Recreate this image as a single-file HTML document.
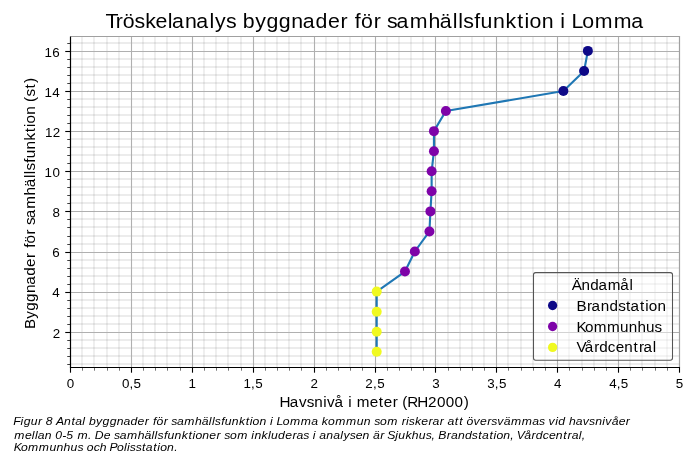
<!DOCTYPE html>
<html><head><meta charset="utf-8">
<style>
html,body{margin:0;padding:0;background:#fff;}
svg{display:block;will-change:transform;}
text{font-family:"Liberation Sans", sans-serif;fill:#000;}
.mg{stroke:rgba(0,0,0,0.1);stroke-width:1.7;}
.mgv{stroke:rgba(0,0,0,0.08);stroke-width:1.7;}
.Mg{stroke:#b0b0b0;stroke-width:1.1;}
.gs{stroke:#a0a0a0;stroke-width:1.2;}
.sp{stroke:#000;stroke-width:1.2;}
.tk{stroke:#000;stroke-width:1.1;}
.tkm{stroke:#000;stroke-width:0.75;}
.tkmx{stroke:#000;stroke-width:0.55;}
</style></head>
<body>
<svg width="700" height="459" viewBox="0 0 700 459">
<rect width="700" height="459" fill="#fff"/>
<line x1="82" y1="36.4" x2="82" y2="367.4" class="mgv"/>
<line x1="94" y1="36.4" x2="94" y2="367.4" class="mgv"/>
<line x1="107" y1="36.4" x2="107" y2="367.4" class="mgv"/>
<line x1="119" y1="36.4" x2="119" y2="367.4" class="mgv"/>
<line x1="143" y1="36.4" x2="143" y2="367.4" class="mgv"/>
<line x1="155" y1="36.4" x2="155" y2="367.4" class="mgv"/>
<line x1="167" y1="36.4" x2="167" y2="367.4" class="mgv"/>
<line x1="180" y1="36.4" x2="180" y2="367.4" class="mgv"/>
<line x1="204" y1="36.4" x2="204" y2="367.4" class="mgv"/>
<line x1="216" y1="36.4" x2="216" y2="367.4" class="mgv"/>
<line x1="228" y1="36.4" x2="228" y2="367.4" class="mgv"/>
<line x1="241" y1="36.4" x2="241" y2="367.4" class="mgv"/>
<line x1="265" y1="36.4" x2="265" y2="367.4" class="mgv"/>
<line x1="277" y1="36.4" x2="277" y2="367.4" class="mgv"/>
<line x1="289" y1="36.4" x2="289" y2="367.4" class="mgv"/>
<line x1="301" y1="36.4" x2="301" y2="367.4" class="mgv"/>
<line x1="326" y1="36.4" x2="326" y2="367.4" class="mgv"/>
<line x1="338" y1="36.4" x2="338" y2="367.4" class="mgv"/>
<line x1="350" y1="36.4" x2="350" y2="367.4" class="mgv"/>
<line x1="362" y1="36.4" x2="362" y2="367.4" class="mgv"/>
<line x1="387" y1="36.4" x2="387" y2="367.4" class="mgv"/>
<line x1="399" y1="36.4" x2="399" y2="367.4" class="mgv"/>
<line x1="411" y1="36.4" x2="411" y2="367.4" class="mgv"/>
<line x1="423" y1="36.4" x2="423" y2="367.4" class="mgv"/>
<line x1="448" y1="36.4" x2="448" y2="367.4" class="mgv"/>
<line x1="460" y1="36.4" x2="460" y2="367.4" class="mgv"/>
<line x1="472" y1="36.4" x2="472" y2="367.4" class="mgv"/>
<line x1="484" y1="36.4" x2="484" y2="367.4" class="mgv"/>
<line x1="508" y1="36.4" x2="508" y2="367.4" class="mgv"/>
<line x1="521" y1="36.4" x2="521" y2="367.4" class="mgv"/>
<line x1="533" y1="36.4" x2="533" y2="367.4" class="mgv"/>
<line x1="545" y1="36.4" x2="545" y2="367.4" class="mgv"/>
<line x1="569" y1="36.4" x2="569" y2="367.4" class="mgv"/>
<line x1="582" y1="36.4" x2="582" y2="367.4" class="mgv"/>
<line x1="594" y1="36.4" x2="594" y2="367.4" class="mgv"/>
<line x1="606" y1="36.4" x2="606" y2="367.4" class="mgv"/>
<line x1="630" y1="36.4" x2="630" y2="367.4" class="mgv"/>
<line x1="642" y1="36.4" x2="642" y2="367.4" class="mgv"/>
<line x1="655" y1="36.4" x2="655" y2="367.4" class="mgv"/>
<line x1="667" y1="36.4" x2="667" y2="367.4" class="mgv"/>
<line x1="70.55" y1="364" x2="679.45" y2="364" class="mg"/>
<line x1="70.55" y1="356" x2="679.45" y2="356" class="mg"/>
<line x1="70.55" y1="348" x2="679.45" y2="348" class="mg"/>
<line x1="70.55" y1="340" x2="679.45" y2="340" class="mg"/>
<line x1="70.55" y1="324" x2="679.45" y2="324" class="mg"/>
<line x1="70.55" y1="316" x2="679.45" y2="316" class="mg"/>
<line x1="70.55" y1="308" x2="679.45" y2="308" class="mg"/>
<line x1="70.55" y1="300" x2="679.45" y2="300" class="mg"/>
<line x1="70.55" y1="284" x2="679.45" y2="284" class="mg"/>
<line x1="70.55" y1="276" x2="679.45" y2="276" class="mg"/>
<line x1="70.55" y1="268" x2="679.45" y2="268" class="mg"/>
<line x1="70.55" y1="260" x2="679.45" y2="260" class="mg"/>
<line x1="70.55" y1="244" x2="679.45" y2="244" class="mg"/>
<line x1="70.55" y1="236" x2="679.45" y2="236" class="mg"/>
<line x1="70.55" y1="227" x2="679.45" y2="227" class="mg"/>
<line x1="70.55" y1="219" x2="679.45" y2="219" class="mg"/>
<line x1="70.55" y1="203" x2="679.45" y2="203" class="mg"/>
<line x1="70.55" y1="195" x2="679.45" y2="195" class="mg"/>
<line x1="70.55" y1="187" x2="679.45" y2="187" class="mg"/>
<line x1="70.55" y1="179" x2="679.45" y2="179" class="mg"/>
<line x1="70.55" y1="163" x2="679.45" y2="163" class="mg"/>
<line x1="70.55" y1="155" x2="679.45" y2="155" class="mg"/>
<line x1="70.55" y1="147" x2="679.45" y2="147" class="mg"/>
<line x1="70.55" y1="139" x2="679.45" y2="139" class="mg"/>
<line x1="70.55" y1="123" x2="679.45" y2="123" class="mg"/>
<line x1="70.55" y1="115" x2="679.45" y2="115" class="mg"/>
<line x1="70.55" y1="107" x2="679.45" y2="107" class="mg"/>
<line x1="70.55" y1="99" x2="679.45" y2="99" class="mg"/>
<line x1="70.55" y1="83" x2="679.45" y2="83" class="mg"/>
<line x1="70.55" y1="75" x2="679.45" y2="75" class="mg"/>
<line x1="70.55" y1="67" x2="679.45" y2="67" class="mg"/>
<line x1="70.55" y1="59" x2="679.45" y2="59" class="mg"/>
<line x1="70.55" y1="43" x2="679.45" y2="43" class="mg"/>
<line x1="131.5" y1="36.4" x2="131.5" y2="367.4" class="Mg"/>
<line x1="192.5" y1="36.4" x2="192.5" y2="367.4" class="Mg"/>
<line x1="253.5" y1="36.4" x2="253.5" y2="367.4" class="Mg"/>
<line x1="314.5" y1="36.4" x2="314.5" y2="367.4" class="Mg"/>
<line x1="375.5" y1="36.4" x2="375.5" y2="367.4" class="Mg"/>
<line x1="435.5" y1="36.4" x2="435.5" y2="367.4" class="Mg"/>
<line x1="496.5" y1="36.4" x2="496.5" y2="367.4" class="Mg"/>
<line x1="557.5" y1="36.4" x2="557.5" y2="367.4" class="Mg"/>
<line x1="618.5" y1="36.4" x2="618.5" y2="367.4" class="Mg"/>
<line x1="70.55" y1="332.5" x2="679.45" y2="332.5" class="Mg"/>
<line x1="70.55" y1="292.5" x2="679.45" y2="292.5" class="Mg"/>
<line x1="70.55" y1="252.5" x2="679.45" y2="252.5" class="Mg"/>
<line x1="70.55" y1="211.5" x2="679.45" y2="211.5" class="Mg"/>
<line x1="70.55" y1="171.5" x2="679.45" y2="171.5" class="Mg"/>
<line x1="70.55" y1="131.5" x2="679.45" y2="131.5" class="Mg"/>
<line x1="70.55" y1="91.5" x2="679.45" y2="91.5" class="Mg"/>
<line x1="70.55" y1="51.5" x2="679.45" y2="51.5" class="Mg"/>
<path d="M70.55,36.5 H679.5 V367.4" fill="none" class="gs" stroke-linejoin="miter"/>
<polyline points="376.70,351.80 376.70,331.74 376.70,311.68 376.70,291.62 404.96,271.56 414.82,251.50 429.44,231.44 430.41,211.38 431.63,191.32 431.63,171.26 433.94,151.20 433.94,131.14 445.88,111.08 563.39,91.02 584.10,70.96 587.87,50.90" fill="none" stroke="#1f77b4" stroke-width="2.1" stroke-linejoin="round"/>
<circle cx="376.70" cy="351.80" r="5.0" fill="#f0f921"/>
<circle cx="376.70" cy="331.74" r="5.0" fill="#f0f921"/>
<circle cx="376.70" cy="311.68" r="5.0" fill="#f0f921"/>
<circle cx="376.70" cy="291.62" r="5.0" fill="#f0f921"/>
<circle cx="404.96" cy="271.56" r="5.0" fill="#7e03a8"/>
<circle cx="414.82" cy="251.50" r="5.0" fill="#7e03a8"/>
<circle cx="429.44" cy="231.44" r="5.0" fill="#7e03a8"/>
<circle cx="430.41" cy="211.38" r="5.0" fill="#7e03a8"/>
<circle cx="431.63" cy="191.32" r="5.0" fill="#7e03a8"/>
<circle cx="431.63" cy="171.26" r="5.0" fill="#7e03a8"/>
<circle cx="433.94" cy="151.20" r="5.0" fill="#7e03a8"/>
<circle cx="433.94" cy="131.14" r="5.0" fill="#7e03a8"/>
<circle cx="445.88" cy="111.08" r="5.0" fill="#7e03a8"/>
<circle cx="563.39" cy="91.02" r="5.0" fill="#0d0887"/>
<circle cx="584.10" cy="70.96" r="5.0" fill="#0d0887"/>
<circle cx="587.87" cy="50.90" r="5.0" fill="#0d0887"/>
<line x1="70.5" y1="36.4" x2="70.5" y2="368.0" class="sp"/>
<line x1="69.95" y1="367.5" x2="680.0500000000001" y2="367.5" class="sp"/>
<line x1="70.5" y1="367.4" x2="70.5" y2="372.70" class="tk"/>
<line x1="82.5" y1="367.4" x2="82.5" y2="370.70" class="tkmx"/>
<line x1="94.5" y1="367.4" x2="94.5" y2="370.70" class="tkmx"/>
<line x1="107.5" y1="367.4" x2="107.5" y2="370.70" class="tkmx"/>
<line x1="119.5" y1="367.4" x2="119.5" y2="370.70" class="tkmx"/>
<line x1="131.5" y1="367.4" x2="131.5" y2="372.70" class="tk"/>
<line x1="143.5" y1="367.4" x2="143.5" y2="370.70" class="tkmx"/>
<line x1="155.5" y1="367.4" x2="155.5" y2="370.70" class="tkmx"/>
<line x1="167.5" y1="367.4" x2="167.5" y2="370.70" class="tkmx"/>
<line x1="180.5" y1="367.4" x2="180.5" y2="370.70" class="tkmx"/>
<line x1="192.5" y1="367.4" x2="192.5" y2="372.70" class="tk"/>
<line x1="204.5" y1="367.4" x2="204.5" y2="370.70" class="tkmx"/>
<line x1="216.5" y1="367.4" x2="216.5" y2="370.70" class="tkmx"/>
<line x1="228.5" y1="367.4" x2="228.5" y2="370.70" class="tkmx"/>
<line x1="241.5" y1="367.4" x2="241.5" y2="370.70" class="tkmx"/>
<line x1="253.5" y1="367.4" x2="253.5" y2="372.70" class="tk"/>
<line x1="265.5" y1="367.4" x2="265.5" y2="370.70" class="tkmx"/>
<line x1="277.5" y1="367.4" x2="277.5" y2="370.70" class="tkmx"/>
<line x1="289.5" y1="367.4" x2="289.5" y2="370.70" class="tkmx"/>
<line x1="301.5" y1="367.4" x2="301.5" y2="370.70" class="tkmx"/>
<line x1="314.5" y1="367.4" x2="314.5" y2="372.70" class="tk"/>
<line x1="326.5" y1="367.4" x2="326.5" y2="370.70" class="tkmx"/>
<line x1="338.5" y1="367.4" x2="338.5" y2="370.70" class="tkmx"/>
<line x1="350.5" y1="367.4" x2="350.5" y2="370.70" class="tkmx"/>
<line x1="362.5" y1="367.4" x2="362.5" y2="370.70" class="tkmx"/>
<line x1="375.5" y1="367.4" x2="375.5" y2="372.70" class="tk"/>
<line x1="387.5" y1="367.4" x2="387.5" y2="370.70" class="tkmx"/>
<line x1="399.5" y1="367.4" x2="399.5" y2="370.70" class="tkmx"/>
<line x1="411.5" y1="367.4" x2="411.5" y2="370.70" class="tkmx"/>
<line x1="423.5" y1="367.4" x2="423.5" y2="370.70" class="tkmx"/>
<line x1="435.5" y1="367.4" x2="435.5" y2="372.70" class="tk"/>
<line x1="448.5" y1="367.4" x2="448.5" y2="370.70" class="tkmx"/>
<line x1="460.5" y1="367.4" x2="460.5" y2="370.70" class="tkmx"/>
<line x1="472.5" y1="367.4" x2="472.5" y2="370.70" class="tkmx"/>
<line x1="484.5" y1="367.4" x2="484.5" y2="370.70" class="tkmx"/>
<line x1="496.5" y1="367.4" x2="496.5" y2="372.70" class="tk"/>
<line x1="508.5" y1="367.4" x2="508.5" y2="370.70" class="tkmx"/>
<line x1="521.5" y1="367.4" x2="521.5" y2="370.70" class="tkmx"/>
<line x1="533.5" y1="367.4" x2="533.5" y2="370.70" class="tkmx"/>
<line x1="545.5" y1="367.4" x2="545.5" y2="370.70" class="tkmx"/>
<line x1="557.5" y1="367.4" x2="557.5" y2="372.70" class="tk"/>
<line x1="569.5" y1="367.4" x2="569.5" y2="370.70" class="tkmx"/>
<line x1="582.5" y1="367.4" x2="582.5" y2="370.70" class="tkmx"/>
<line x1="594.5" y1="367.4" x2="594.5" y2="370.70" class="tkmx"/>
<line x1="606.5" y1="367.4" x2="606.5" y2="370.70" class="tkmx"/>
<line x1="618.5" y1="367.4" x2="618.5" y2="372.70" class="tk"/>
<line x1="630.5" y1="367.4" x2="630.5" y2="370.70" class="tkmx"/>
<line x1="642.5" y1="367.4" x2="642.5" y2="370.70" class="tkmx"/>
<line x1="655.5" y1="367.4" x2="655.5" y2="370.70" class="tkmx"/>
<line x1="667.5" y1="367.4" x2="667.5" y2="370.70" class="tkmx"/>
<line x1="679.5" y1="367.4" x2="679.5" y2="372.70" class="tk"/>
<line x1="67.25" y1="364.5" x2="70.55" y2="364.5" class="tkm"/>
<line x1="67.25" y1="356.5" x2="70.55" y2="356.5" class="tkm"/>
<line x1="67.25" y1="348.5" x2="70.55" y2="348.5" class="tkm"/>
<line x1="67.25" y1="340.5" x2="70.55" y2="340.5" class="tkm"/>
<line x1="65.25" y1="332.5" x2="70.55" y2="332.5" class="tk"/>
<line x1="67.25" y1="324.5" x2="70.55" y2="324.5" class="tkm"/>
<line x1="67.25" y1="316.5" x2="70.55" y2="316.5" class="tkm"/>
<line x1="67.25" y1="308.5" x2="70.55" y2="308.5" class="tkm"/>
<line x1="67.25" y1="300.5" x2="70.55" y2="300.5" class="tkm"/>
<line x1="65.25" y1="292.5" x2="70.55" y2="292.5" class="tk"/>
<line x1="67.25" y1="284.5" x2="70.55" y2="284.5" class="tkm"/>
<line x1="67.25" y1="276.5" x2="70.55" y2="276.5" class="tkm"/>
<line x1="67.25" y1="268.5" x2="70.55" y2="268.5" class="tkm"/>
<line x1="67.25" y1="260.5" x2="70.55" y2="260.5" class="tkm"/>
<line x1="65.25" y1="252.5" x2="70.55" y2="252.5" class="tk"/>
<line x1="67.25" y1="244.5" x2="70.55" y2="244.5" class="tkm"/>
<line x1="67.25" y1="236.5" x2="70.55" y2="236.5" class="tkm"/>
<line x1="67.25" y1="227.5" x2="70.55" y2="227.5" class="tkm"/>
<line x1="67.25" y1="219.5" x2="70.55" y2="219.5" class="tkm"/>
<line x1="65.25" y1="211.5" x2="70.55" y2="211.5" class="tk"/>
<line x1="67.25" y1="203.5" x2="70.55" y2="203.5" class="tkm"/>
<line x1="67.25" y1="195.5" x2="70.55" y2="195.5" class="tkm"/>
<line x1="67.25" y1="187.5" x2="70.55" y2="187.5" class="tkm"/>
<line x1="67.25" y1="179.5" x2="70.55" y2="179.5" class="tkm"/>
<line x1="65.25" y1="171.5" x2="70.55" y2="171.5" class="tk"/>
<line x1="67.25" y1="163.5" x2="70.55" y2="163.5" class="tkm"/>
<line x1="67.25" y1="155.5" x2="70.55" y2="155.5" class="tkm"/>
<line x1="67.25" y1="147.5" x2="70.55" y2="147.5" class="tkm"/>
<line x1="67.25" y1="139.5" x2="70.55" y2="139.5" class="tkm"/>
<line x1="65.25" y1="131.5" x2="70.55" y2="131.5" class="tk"/>
<line x1="67.25" y1="123.5" x2="70.55" y2="123.5" class="tkm"/>
<line x1="67.25" y1="115.5" x2="70.55" y2="115.5" class="tkm"/>
<line x1="67.25" y1="107.5" x2="70.55" y2="107.5" class="tkm"/>
<line x1="67.25" y1="99.5" x2="70.55" y2="99.5" class="tkm"/>
<line x1="65.25" y1="91.5" x2="70.55" y2="91.5" class="tk"/>
<line x1="67.25" y1="83.5" x2="70.55" y2="83.5" class="tkm"/>
<line x1="67.25" y1="75.5" x2="70.55" y2="75.5" class="tkm"/>
<line x1="67.25" y1="67.5" x2="70.55" y2="67.5" class="tkm"/>
<line x1="67.25" y1="59.5" x2="70.55" y2="59.5" class="tkm"/>
<line x1="65.25" y1="51.5" x2="70.55" y2="51.5" class="tk"/>
<line x1="67.25" y1="43.5" x2="70.55" y2="43.5" class="tkm"/>
<rect x="533.5" y="272.6" width="139.0" height="87.7" rx="2.2" ry="2.2" fill="#ffffff" fill-opacity="0.45" stroke="#555" stroke-width="1.05"/>
<circle cx="552.6" cy="305.5" r="4.65" fill="#0d0887"/>
<circle cx="552.6" cy="326.5" r="4.65" fill="#7e03a8"/>
<circle cx="552.6" cy="347.4" r="4.65" fill="#f0f921"/>
<text transform="scale(1.05,1)" x="63.65" y="388.00" style="font-size:12.749px;">0</text>
<text transform="scale(1.05,1)" x="116.21 123.42 127.26" y="388.00" style="font-size:12.749px;">0,5</text>
<text transform="scale(1.05,1)" x="179.45" y="388.00" style="font-size:12.749px;">1</text>
<text transform="scale(1.05,1)" x="231.87 239.14 242.98" y="388.00" style="font-size:12.749px;">1,5</text>
<text transform="scale(1.05,1)" x="295.61" y="388.00" style="font-size:12.749px;">2</text>
<text transform="scale(1.05,1)" x="347.98 355.33 359.18" y="388.00" style="font-size:12.749px;">2,5</text>
<text transform="scale(1.05,1)" x="411.63" y="388.00" style="font-size:12.749px;">3</text>
<text transform="scale(1.05,1)" x="464.12 471.30 475.14" y="388.00" style="font-size:12.749px;">3,5</text>
<text transform="scale(1.05,1)" x="527.61" y="388.00" style="font-size:12.749px;">4</text>
<text transform="scale(1.05,1)" x="580.24 587.44 591.28" y="388.00" style="font-size:12.749px;">4,5</text>
<text transform="scale(1.05,1)" x="643.56" y="388.00" style="font-size:12.749px;">5</text>
<text transform="scale(1.05,1)" x="50.15" y="338.00" style="font-size:12.749px;">2</text>
<text transform="scale(1.05,1)" x="49.79" y="297.00" style="font-size:12.749px;">4</text>
<text transform="scale(1.05,1)" x="49.87" y="257.00" style="font-size:12.749px;">6</text>
<text transform="scale(1.05,1)" x="49.93" y="217.00" style="font-size:12.749px;">8</text>
<text transform="scale(1.05,1)" x="42.45 49.91" y="177.00" style="font-size:12.749px;">10</text>
<text transform="scale(1.05,1)" x="42.84 50.15" y="137.00" style="font-size:12.749px;">12</text>
<text transform="scale(1.05,1)" x="42.33 49.79" y="97.00" style="font-size:12.749px;">14</text>
<text transform="scale(1.05,1)" x="42.41 49.87" y="57.00" style="font-size:12.749px;">16</text>
<text transform="scale(1.05,1)" x="100.43 110.35 116.84 128.07 138.27 148.05 159.70 163.87 176.21 187.03 199.42 204.67 215.15 231.19 243.05 253.77 265.57 277.50 288.32 300.53 312.28 324.38 337.83 343.73 355.84 368.50 377.61 390.31 408.02 418.88 431.26 436.42 441.16 451.62 457.68 469.54 481.45 492.57 499.42 504.28 515.89 533.63 544.26 554.43 566.40 584.50 601.28" y="28.00" style="font-size:20.315px;">TröskelanalysbyggnaderförsamhällsfunktioniLomma</text>
<text transform="scale(1.05,1)" x="266.14 275.86 284.75 292.20 299.37 307.80 311.53 318.58 331.61 339.70 352.21 360.83 365.53 374.15 383.05 387.97 397.34 407.55 416.14 424.56 432.97 441.75" y="407.00" style="font-size:14.515px;">Havsnivåimeter(RH2000)</text>
<text transform="rotate(-90) scale(1.05,1)" x="-313.24 -303.55 -295.91 -287.52 -279.02 -271.32 -262.63 -254.26 -245.64 -236.06 -231.87 -223.25 -214.23 -207.75 -198.71 -186.10 -178.37 -169.54 -165.87 -162.50 -155.05 -150.74 -142.30 -133.82 -125.90 -121.02 -117.56 -109.30 -97.10 -91.82 -84.30 -79.12" y="35.20" style="font-size:14.515px;">Byggnaderförsamhällsfunktion(st)</text>
<text transform="scale(1.05,1)" x="544.42 553.93 562.18 569.95 578.93 590.83 599.63" y="290.00" style="font-size:14.515px;">Ändamål</text>
<text transform="scale(1.05,1)" x="549.01 558.98 563.39 572.20 580.50 588.74 596.27 600.44 609.59 614.48 617.95 626.23" y="311.00" style="font-size:14.515px;">Brandstation</text>
<text transform="scale(1.05,1)" x="549.02 557.15 565.49 578.15 590.55 598.84 607.06 615.27 623.30" y="332.00" style="font-size:14.515px;">Kommunhus</text>
<text transform="scale(1.05,1)" x="549.01 556.84 565.98 570.72 578.86 586.34 594.59 603.32 608.50 612.89 621.71" y="352.00" style="font-size:14.515px;">Vårdcentral</text>
<text transform="scale(1.05,1)" x="12.59 19.55 22.52 29.17 36.24 43.52 53.37 61.04 68.13 71.74 78.40 84.77 91.53 97.74 104.47 111.18 117.73 124.32 131.06 137.94 145.83 148.95 155.88 163.10 168.67 175.54 185.66 192.18 198.87 201.81 204.55 210.75 213.96 220.74 227.52 233.97 237.75 240.58 247.18 257.26 263.23 269.37 276.17 286.50 296.46 306.55 312.51 319.31 329.64 339.71 346.48 356.36 361.98 368.78 382.56 386.63 389.36 395.16 401.17 408.05 411.95 418.90 426.17 433.21 437.37 444.37 450.96 457.21 464.09 467.94 473.64 479.75 486.65 496.97 506.93 513.38 522.44 528.75 531.63 541.80 548.35 554.97 561.08 566.81 573.52 576.43 582.54 589.18 596.05" y="425.00" style="font-size:11.610px;font-style:italic;">Figur8AntalbyggnaderförsamhällsfunktioniLommakommunsomriskerarattöversvämmasvidhavsnivåer</text>
<text transform="scale(1.05,1)" x="13.66 23.74 30.32 33.27 36.06 42.73 52.65 59.32 63.11 73.75 83.92 90.30 98.74 108.50 114.07 120.95 131.09 137.61 144.31 147.26 150.00 156.20 159.42 166.21 173.00 179.46 183.24 186.08 192.69 199.35 206.23 213.47 219.10 225.91 239.41 242.37 249.16 255.24 258.14 264.85 271.59 278.48 282.38 288.84 297.95 304.11 310.79 317.34 324.01 327.04 333.04 338.71 345.31 355.21 362.20 368.78 376.36 379.28 386.13 392.22 398.88 405.45 411.06 417.42 425.52 429.42 436.10 442.75 449.35 455.47 459.08 466.13 469.91 472.75 479.36 485.96 492.24 499.21 506.21 510.22 516.96 522.80 529.39 536.49 540.57 544.47 551.14 553.96" y="439.00" style="font-size:11.610px;font-style:italic;">mellan0-5m.DesamhällsfunktionersominkluderasianalysenärSjukhus,Brandstation,Vårdcentral,</text>
<text transform="scale(1.05,1)" x="13.03 19.90 26.68 36.99 47.04 53.81 60.52 67.16 73.71 82.69 89.21 95.10 104.35 111.43 118.01 120.95 123.68 129.20 135.30 138.90 145.93 149.70 152.53 159.12 165.86" y="451.00" style="font-size:11.610px;font-style:italic;">KommunhusochPolisstation.</text>
</svg>
</body></html>
